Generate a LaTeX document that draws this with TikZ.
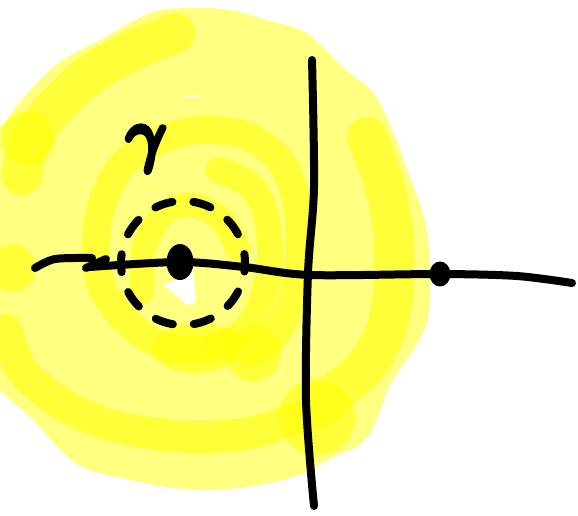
\documentclass[tikz,border=0pt]{standalone}
\usepackage{amsmath}
\usepackage{xcolor}
\usepackage{tikz}
\usetikzlibrary{shapes.geometric}
\definecolor{pale}{RGB}{255,255,128}
\definecolor{hilite}{RGB}{255,255,10}
\newcommand{\thickgly}[1]{\special{pdf:literal direct 2 Tr 2.2 w 1 j}#1\special{pdf:literal direct 0 Tr}}
\tikzset{
  blob/.style={fill=pale, draw=none},
  swirl/.style={draw=hilite, line width=36pt, line cap=round, line join=round, draw opacity=0.6},
  spot/.style={fill=hilite, fill opacity=0.6},
  ax/.style={draw=black, line width=8pt, line cap=round, line join=round},
  dot/.style={ellipse, fill=black, inner sep=0pt, minimum width=27pt, minimum height=36pt},
  loopc/.style={circle, draw=black, line width=8pt, line cap=round, dash pattern=on 18pt off 21pt, dash phase=9pt, minimum size=124pt, inner sep=0pt},
  lbl/.style={font=\Huge, scale=2.8, transform shape, inner sep=0pt}
}

\begin{document}
\begin{tikzpicture}[x=1pt, y=-1pt]
        \useasboundingbox (0,0) rectangle (578,515);
        \clip (0,0) rectangle (578,515);
        % yellow background
        \fill[blob] plot[smooth cycle, tension=0.6] coordinates {(-10,150) (5,122) (30,90) (60,62) (100,40) (150,13) (190,8) (229,10) (266,20) (306,33) (343,67) (373,93) (391,127) (406,167) (424,217) (430,267) (428,317) (413,350) (391,383) (367,437) (333,457) (283,480) (200,490) (117,477) (74,462) (33,420) (0,390) (-10,370)};
        \draw[swirl, line width=40pt] plot[smooth] coordinates {(175,33) (140,47) (92,73) (55,107) (30,140) (22,175)};
        \fill[spot] (28,138) circle (27pt);
        \fill[spot] (12,268) circle (24pt);
        \draw[swirl, line width=32pt] plot[smooth] coordinates {(6,330) (23,372) (67,407) (117,427) (187,437) (250,433) (295,418)};
        \draw[swirl, line width=40pt] plot[smooth] coordinates {(367,137) (384,183) (393,233) (394,283) (386,330) (365,367) (335,393) (318,410)};
        \fill[spot] (317,417) circle (38pt);
        \draw[swirl, line width=28pt] plot[smooth] coordinates {(251,353) (275,335) (292,300) (300,250) (296,200) (280,160) (245,135) (200,130) (160,140) (122,165) (100,210) (96,255) (103,290) (125,320) (160,345) (200,350) (230,342)};
        \fill[spot] (196,348) ellipse (44pt and 25pt);
        \fill[spot] (253,353) circle (28pt);
        \draw[swirl, line width=26pt] plot[smooth] coordinates {(218,170) (250,185) (266,215) (270,260) (262,300) (245,330) (215,345)};
        \draw[swirl, line width=24pt] plot[smooth] coordinates {(142,292) (145,245) (165,212) (192,205) (222,220) (238,250)};
        \fill[white] (163,285) -- (182,277) -- (193,268) -- (196,300) -- (189,306) -- cycle;
        \draw[white, line width=2pt] (186,96) -- (200,96);
        % axes
        \coordinate (hl) at (35,268);
        \coordinate (hr) at (572,283);
        \coordinate (vt) at (312,60);
        \coordinate (vb) at (314,506);
        \node[dot] (p) at (180,262) {};
        \node[dot, minimum width=21pt, minimum height=25pt] (q) at (440,274) {};
        \draw[ax] plot[smooth] coordinates {(hl) (55,259) (92,258)};
        \draw[ax] (86,268) -- (106,259);
        \draw[ax] plot[smooth] coordinates {(90,267) (p.center) (244,267) (310,275) (q.center) (517,276) (hr)};
        \draw[ax] plot[smooth] coordinates {(vt) (314,187) (308,273) (306,400) (vb)};
        % contour
        \node[loopc] (loop) at (183,263) {};
        \node[lbl] (gam) at (146,149) {\thickgly{$\gamma$}};
      \end{tikzpicture}
\end{document}
